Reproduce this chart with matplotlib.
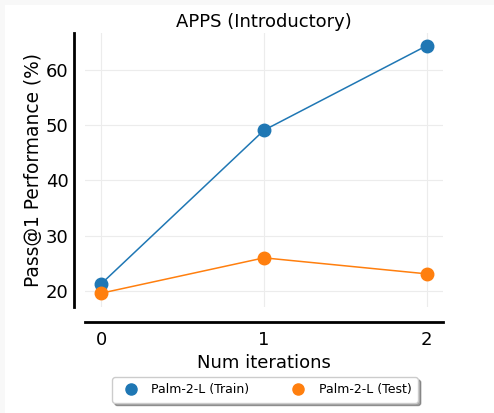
import matplotlib
matplotlib.use("Agg")
import matplotlib.pyplot as plt
from matplotlib.patches import Rectangle
from matplotlib.lines import Line2D

iterations = [0, 1, 2]
train_vals = [21.3, 49.1, 64.4]
test_vals = [19.6, 26.0, 23.1]
series_labels = ["Palm-2-L (Train)", "Palm-2-L (Test)"]
yticks = [20, 30, 40, 50, 60]

W, H = 494, 413
fig = plt.figure(figsize=(W / 100, H / 100), dpi=100)
fig.patch.set_facecolor("#f8f8f8")
fig.patches.append(Rectangle((5 / W, 0), 1, 1 - 5 / H, transform=fig.transFigure,
                             facecolor="white", edgecolor="none", zorder=-10))

ax = fig.add_axes([85 / W, 1 - 307 / H, (443 - 85) / W, (307 - 33) / H])
ax.set_facecolor("white")
ax.plot(iterations, train_vals, color="#1f77b4", lw=1.1, marker="o", ms=9, label=series_labels[0])
ax.plot(iterations, test_vals, color="#ff7f0e", lw=1.1, marker="o", ms=9, label=series_labels[1])

ax.set_xlim(-0.1, 2.1)
ax.set_ylim(17.1, 66.7)
ax.set_xticks(iterations)
ax.set_yticks(yticks)
ax.grid(True, color="#ececec", lw=0.8)
ax.set_axisbelow(True)

for s in ["top", "right"]:
    ax.spines[s].set_visible(False)
ax.spines["left"].set_linewidth(2)
ax.spines["bottom"].set_linewidth(2)
ax.spines["bottom"].set_position(("outward", 11))
ax.spines["left"].set_position(("outward", 8))
ax.tick_params(axis="x", length=0, labelsize=13, pad=6)
ax.tick_params(axis="y", length=0, labelsize=13, pad=4)

ax.set_xlabel("Num iterations", fontsize=13)
ax.set_ylabel("Pass@1 Performance (%)", fontsize=13.4, labelpad=2)
ax.set_title("APPS (Introductory)", fontsize=13, pad=4)

handles = [Line2D([], [], ls="none", marker="o", ms=8, color=c) for c in ["#1f77b4", "#ff7f0e"]]
fig.legend(handles, series_labels, loc="center", bbox_to_anchor=(265 / W, 1 - 390 / H),
           ncol=2, fontsize=9, frameon=True, shadow=True, fancybox=True,
           columnspacing=2.9, handletextpad=0.65, borderpad=0.5)

fig.savefig("out.png", dpi=100, facecolor=fig.get_facecolor())
